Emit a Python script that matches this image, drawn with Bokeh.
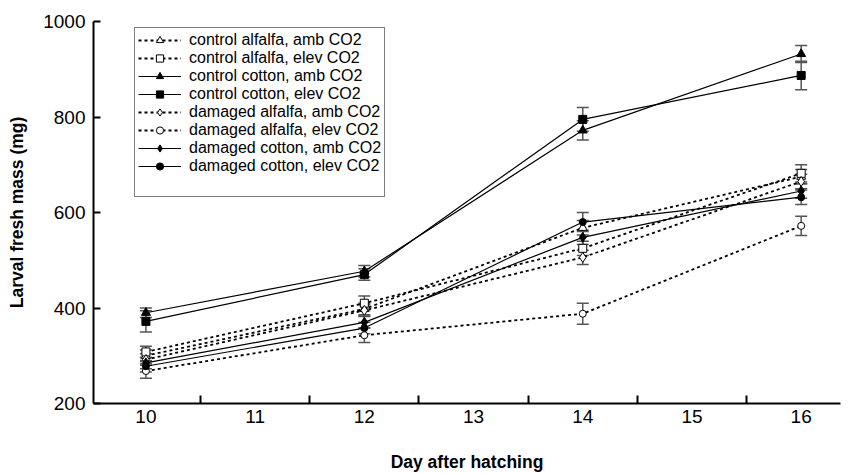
from bokeh.plotting import figure
from bokeh.models import Range1d, FixedTicker, Legend, LegendItem, Whisker, TeeHead, ColumnDataSource
from bokeh.embed import file_html
from bokeh.resources import INLINE

# ---- data ----
days = [10, 12, 14, 16]
x_ticks = [10, 11, 12, 13, 14, 15, 16]
x_minor_ticks = [10.5, 11.5, 12.5, 13.5, 14.5, 15.5]
y_ticks = [200, 400, 600, 800, 1000]

labels = [
    "control alfalfa, amb CO2",
    "control alfalfa, elev CO2",
    "control cotton, amb CO2",
    "control cotton, elev CO2",
    "damaged alfalfa, amb CO2",
    "damaged alfalfa, elev CO2",
    "damaged cotton, amb CO2",
    "damaged cotton, elev CO2",
]

ctrl_alf_amb = [300, 398, 568, 675]
ctrl_alf_elev = [308, 410, 525, 682]
ctrl_cot_amb = [390, 477, 772, 932]
ctrl_cot_elev = [372, 470, 795, 887]
dmg_alf_amb = [292, 395, 506, 665]
dmg_alf_elev = [268, 343, 388, 572]
dmg_cot_amb = [285, 370, 548, 645]
dmg_cot_elev = [278, 358, 580, 632]

err_ctrl_alf_amb = [12, 12, 15, 15]
err_ctrl_alf_elev = [12, 15, 15, 18]
err_ctrl_cot_amb = [10, 12, 20, 18]
err_ctrl_cot_elev = [22, 12, 25, 30]
err_dmg_alf_amb = [12, 12, 15, 15]
err_dmg_alf_elev = [15, 15, 22, 20]
err_dmg_cot_amb = [12, 12, 15, 15]
err_dmg_cot_elev = [12, 12, 20, 15]

series = [ctrl_alf_amb, ctrl_alf_elev, ctrl_cot_amb, ctrl_cot_elev,
          dmg_alf_amb, dmg_alf_elev, dmg_cot_amb, dmg_cot_elev]
errors = [err_ctrl_alf_amb, err_ctrl_alf_elev, err_ctrl_cot_amb, err_ctrl_cot_elev,
          err_dmg_alf_amb, err_dmg_alf_elev, err_dmg_cot_amb, err_dmg_cot_elev]

# ---- styles ----
markers = ["triangle", "square", "triangle", "square", "diamond", "circle", "diamond", "circle"]
filled = [False, False, True, True, False, False, True, True]
dotted = [True, True, False, False, True, True, False, False]
msizes = [9, 8, 9, 8, 10, 7, 10, 7]

FONT = "Liberation Sans"

p = figure(width=843, height=474, output_backend="svg", toolbar_location=None,
           x_range=Range1d(9.52, 16.36), y_range=Range1d(200, 1000),
           min_border_left=93, min_border_right=3, min_border_top=21, min_border_bottom=70)
p.outline_line_color = None
p.grid.visible = False
p.background_fill_color = "white"

err_color = "#555555"
for vals, errs in zip(series, errors):
    src = ColumnDataSource(dict(x=days,
                                upper=[v + e for v, e in zip(vals, errs)],
                                lower=[v - e for v, e in zip(vals, errs)]))
    w = Whisker(base="x", upper="upper", lower="lower", source=src, dimension="height",
                line_color=err_color, line_width=1.5, level="underlay",
                upper_head=TeeHead(size=12, line_color=err_color, line_width=1.5),
                lower_head=TeeHead(size=12, line_color=err_color, line_width=1.5))
    p.add_layout(w)

items = []
for lab, vals, mk, fl, dt, ms in zip(labels, series, markers, filled, dotted, msizes):
    if dt:
        lr = p.line(days, vals, line_color="black", line_width=1.8, line_dash="3 3")
    else:
        lr = p.line(days, vals, line_color="black", line_width=1.2)
    sr = p.scatter(days, vals, marker=mk, size=ms, line_color="black", line_width=1,
                   fill_color="black" if fl else "white")
    items.append(LegendItem(label=lab, renderers=[lr, sr]))

# invisible spacer entry to reproduce the extra space at the bottom of the legend
dummy = p.scatter([], [], size=0, fill_alpha=0, line_alpha=0)
items.append(LegendItem(label=" ", renderers=[dummy]))

legend = Legend(items=items, location=(41, 206), padding=3, spacing=0, margin=0,
                glyph_width=43, glyph_height=18, label_height=18, label_standoff=8,
                label_text_font=FONT, label_text_font_size="16px", label_text_color="black",
                border_line_color="black", border_line_width=1.5,
                background_fill_color="white", background_fill_alpha=1)
p.add_layout(legend, "center")

# axes
p.xaxis.ticker = FixedTicker(ticks=x_ticks, minor_ticks=x_minor_ticks)
p.yaxis.ticker = FixedTicker(ticks=y_ticks, minor_ticks=[])
for ax in (p.xaxis, p.yaxis):
    ax.axis_line_width = 2
    ax.axis_line_color = "black"
    ax.major_tick_line_width = 2
    ax.minor_tick_line_width = 2
    ax.major_label_text_font = FONT
    ax.major_label_text_font_size = "19px"
    ax.major_label_text_color = "black"
    ax.axis_label_text_font = FONT
    ax.axis_label_text_font_style = "bold"
    ax.axis_label_text_font_size = "17.5px"
    ax.axis_label_text_color = "black"

p.xaxis.major_tick_in = 0
p.xaxis.major_tick_out = 0
p.xaxis.minor_tick_in = 8
p.xaxis.minor_tick_out = 0
p.xaxis.major_label_standoff = 6
p.xaxis.axis_label = "Day after hatching"
p.xaxis.axis_label_standoff = 26

p.yaxis.major_tick_in = 7
p.yaxis.major_tick_out = 0
p.yaxis.minor_tick_in = 0
p.yaxis.minor_tick_out = 0
p.yaxis.major_label_standoff = 8
p.yaxis.axis_label = "Larval fresh mass (mg)"
p.yaxis.axis_label_standoff = 13

open("out.html", "w").write(file_html(p, INLINE))
